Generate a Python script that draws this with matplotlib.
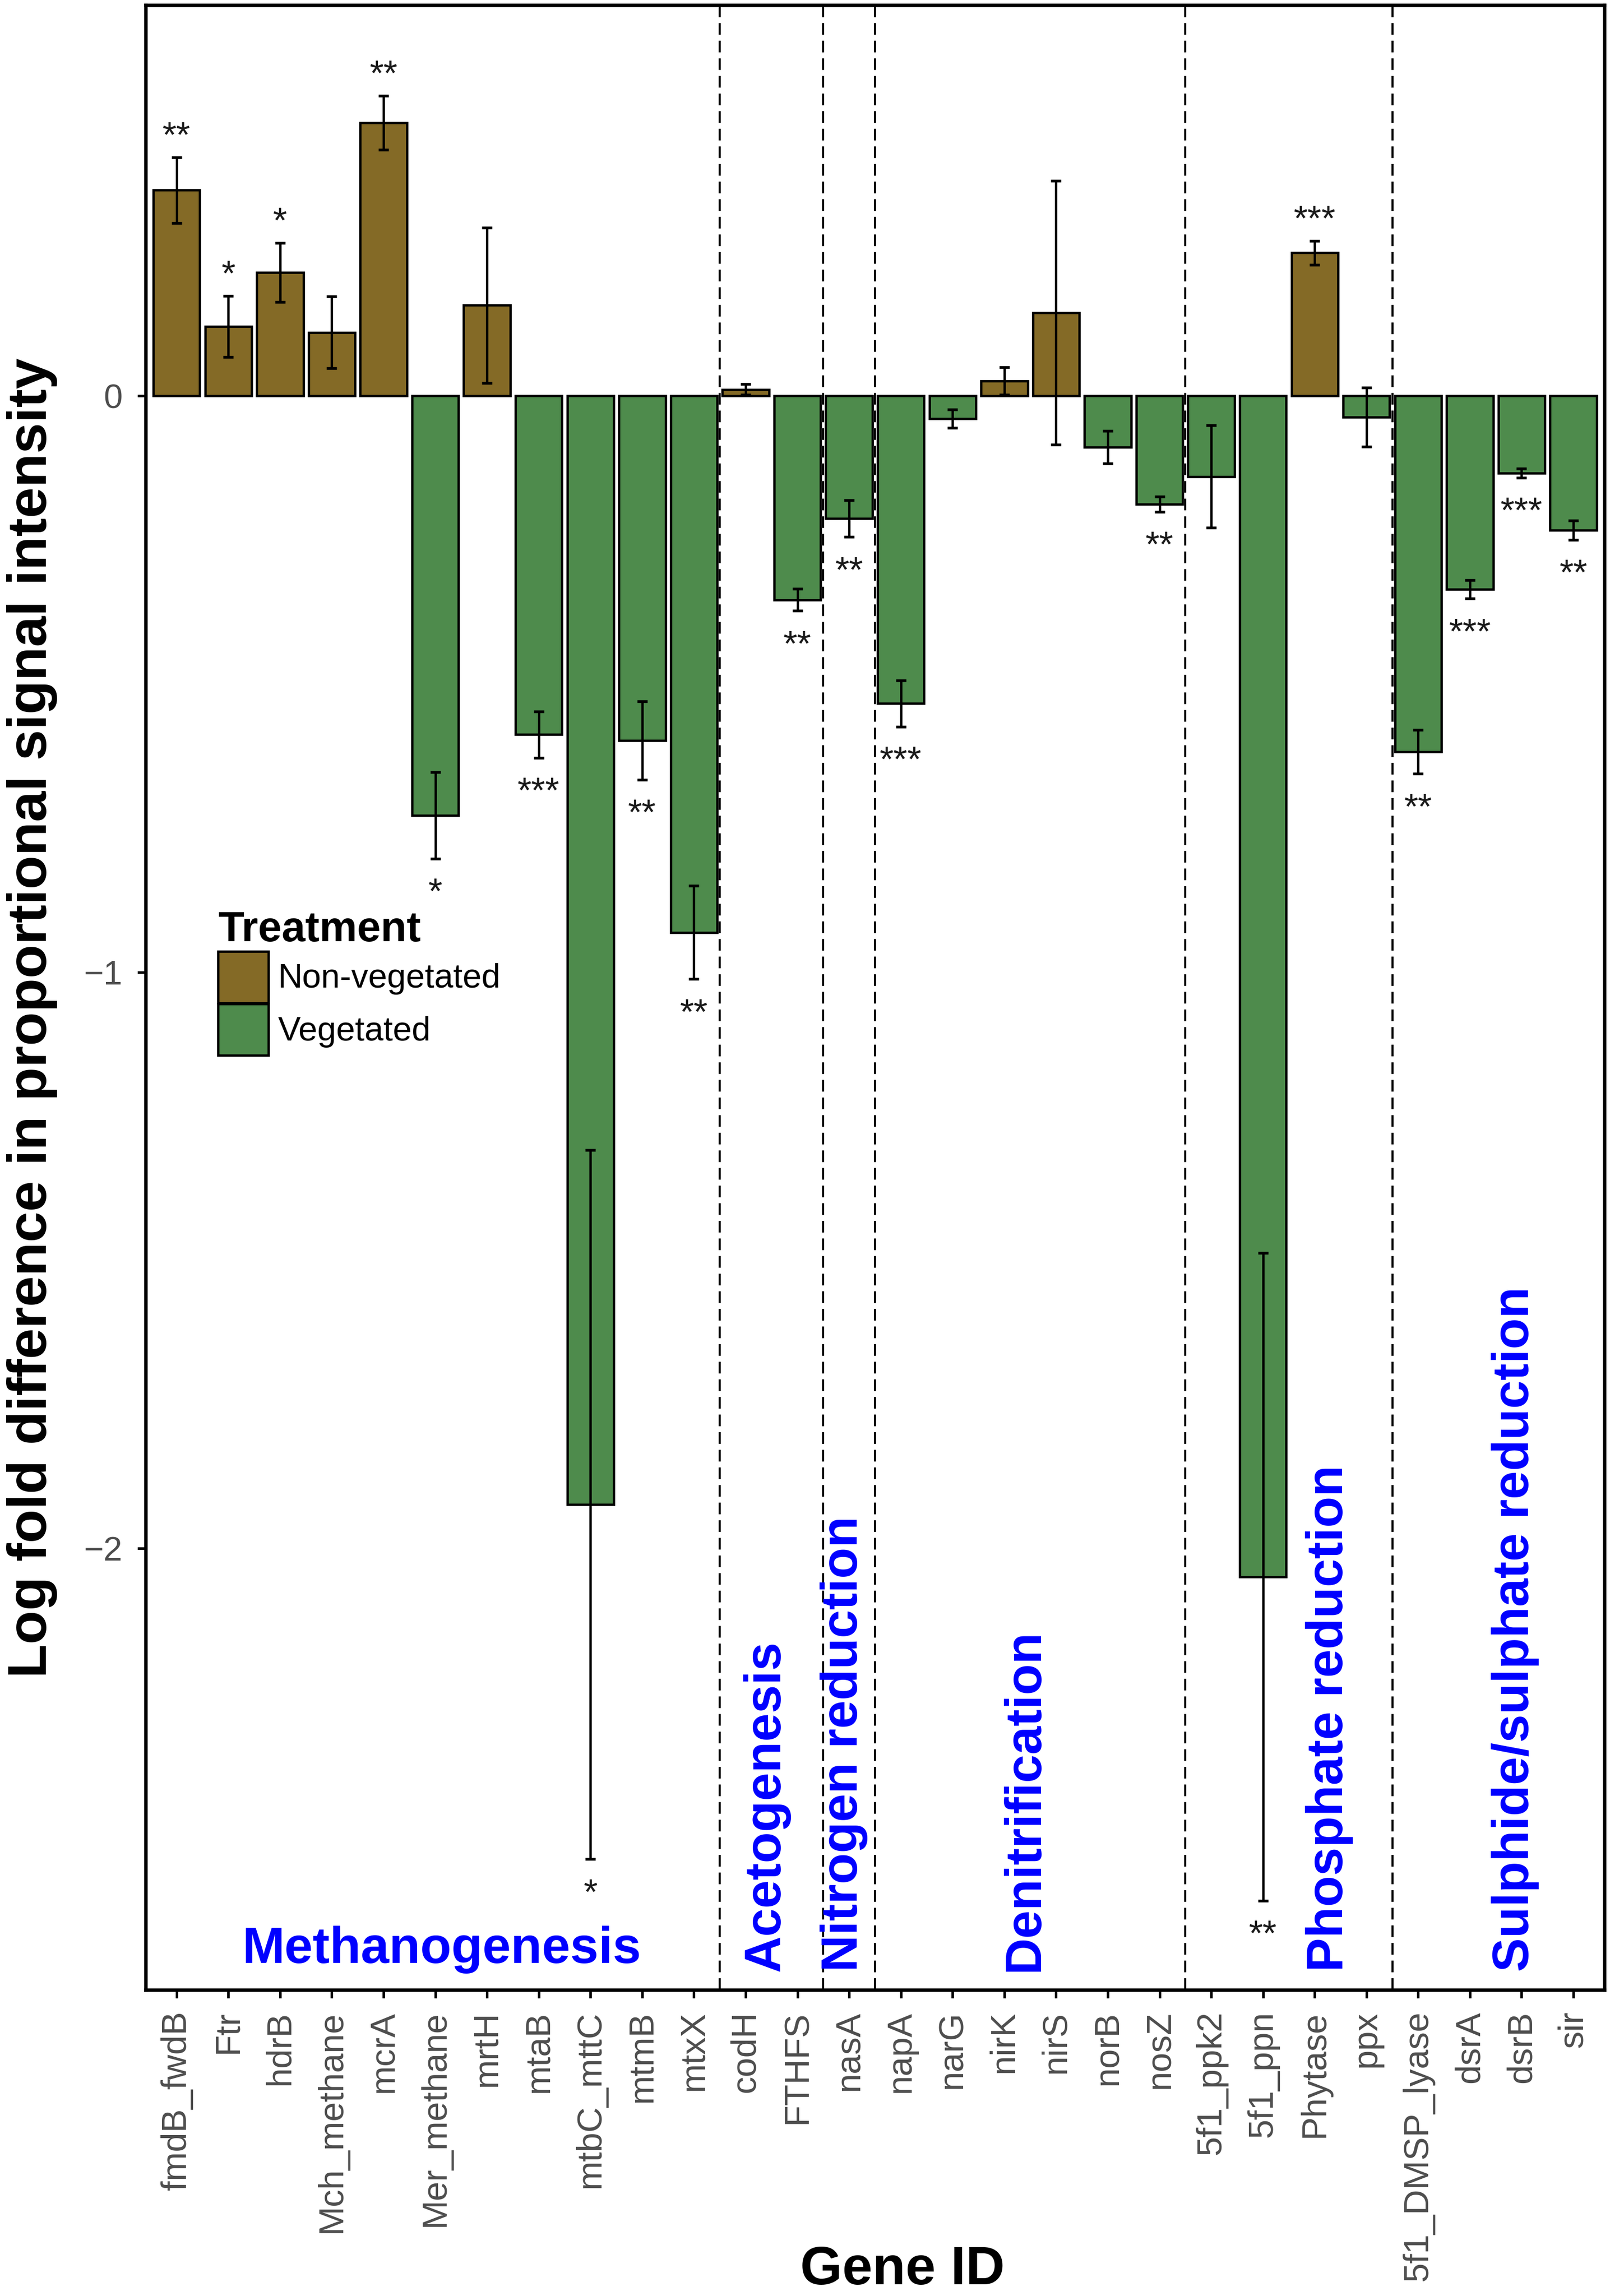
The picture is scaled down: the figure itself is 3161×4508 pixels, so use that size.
import matplotlib
matplotlib.use('Agg')
import matplotlib.pyplot as plt
from matplotlib.patches import Patch
import numpy as np

plt.rcParams['font.family'] = ['Liberation Sans', 'DejaVu Sans']

# ---------------- data ----------------
genes = ['fmdB_fwdB', 'Ftr', 'hdrB', 'Mch_methane', 'mcrA', 'Mer_methane', 'mrtH',
         'mtaB', 'mtbC_mttC', 'mtmB', 'mtxX', 'codH', 'FTHFS', 'nasA', 'napA',
         'narG', 'nirK', 'nirS', 'norB', 'nosZ', '5f1_ppk2', '5f1_ppn', 'Phytase',
         'ppx', '5f1_DMSP_lyase', 'dsrA', 'dsrB', 'sir']
lfc = [0.357, 0.120, 0.214, 0.110, 0.474, -0.728, 0.157,
       -0.588, -1.924, -0.598, -0.931, 0.011, -0.354, -0.213, -0.534,
       -0.040, 0.026, 0.144, -0.089, -0.188, -0.140, -2.049, 0.248,
       -0.037, -0.618, -0.336, -0.134, -0.233]
se = [0.057, 0.053, 0.051, 0.062, 0.047, 0.075, 0.135,
      0.040, 0.615, 0.068, 0.081, 0.009, 0.019, 0.032, 0.040,
      0.016, 0.024, 0.229, 0.028, 0.013, 0.089, 0.562, 0.021,
      0.051, 0.038, 0.016, 0.008, 0.017]
sig = ['**', '*', '*', '', '**', '*', '',
       '***', '*', '**', '**', '', '**', '**', '***',
       '', '', '', '', '**', '', '**', '***',
       '', '**', '***', '***', '**']
treatments = ['Non-vegetated', 'Vegetated']
group_names = ['Methanogenesis', 'Acetogenesis', 'Nitrogen reduction',
               'Denitrification', 'Phosphate reduction', 'Sulphide/sulphate reduction']
group_sizes = [11, 2, 1, 6, 4, 4]

# ---------------- style / layout ----------------
col = {'Non-vegetated': '#846A26', 'Vegetated': '#4E8B4C'}
W, H, DPI = 3162, 4508, 300
fig = plt.figure(figsize=(W / DPI, H / DPI), dpi=DPI)
ax = fig.add_axes([0.0904, 0.1333, 0.9962 - 0.0904, 0.9978 - 0.1333])

x = np.arange(len(genes))
vals = np.array(lfc)
errs = np.array(se)
bar_tr = [treatments[0] if v > 0 else treatments[1] for v in vals]
ax.bar(x, vals, width=0.9, color=[col[t] for t in bar_tr],
       edgecolor='black', linewidth=1.1, zorder=2)
ax.errorbar(x, vals, yerr=errs, fmt='none', ecolor='black',
            elinewidth=1.1, capsize=2.5, capthick=1.3, zorder=3)

# significance stars
for xi, v, e, s in zip(x, vals, errs, sig):
    if not s:
        continue
    if v > 0:
        ax.annotate(s, xy=(xi, v + e), xytext=(0, 5), textcoords='offset points',
                    ha='center', va='baseline', fontsize=17, color='#1a1a1a', zorder=4)
    else:
        ax.annotate(s, xy=(xi, v - e), xytext=(0, -21), textcoords='offset points',
                    ha='center', va='baseline', fontsize=17, color='#1a1a1a', zorder=4)

# group separators
bounds = np.cumsum(group_sizes)[:-1] - 0.5
for b in bounds:
    ax.axvline(b, color='black', linewidth=1.0, linestyle=(0, (5.5, 2.8)), zorder=1)

# group labels
grp_x = [5.12, 11.40, 12.90, 16.40, 22.28, 25.88]
for i, (name, gx) in enumerate(zip(group_names, grp_x)):
    if i == 0:
        ax.text(gx, -2.719, name, ha='center', va='baseline', fontsize=24,
                fontweight='bold', color='#0000FF', zorder=4)
    else:
        ax.text(gx, -2.734, name, ha='center', va='bottom', rotation=90,
                fontsize=24, fontweight='bold', color='#0000FF', zorder=4)

ax.set_xlim(-0.6, len(genes) - 0.4)
ax.set_ylim(-2.766, 0.678)
ax.set_xticks(x)
ax.set_xticklabels(genes, rotation=90, fontsize=16.5, color='#4D4D4D')
ax.set_yticks([-2, -1, 0])
ax.set_yticklabels(['\u22122', '\u22121', '0'], fontsize=16, color='#4D4D4D')
ax.tick_params(axis='both', direction='out', length=3.9, width=1.2, color='black')
ax.tick_params(axis='x', pad=6)
ax.tick_params(axis='y', pad=7)
for sp in ax.spines.values():
    sp.set_linewidth(1.6)
    sp.set_color('black')

# legend
handles = [Patch(facecolor=col[t], edgecolor='black', linewidth=1.1) for t in treatments]
leg = ax.legend(handles, treatments, title='Treatment', loc='upper left',
                bbox_to_anchor=(0.0496, 0.5440), frameon=False, fontsize=16,
                title_fontproperties={'weight': 'bold', 'size': 20},
                handlelength=1.48, handleheight=1.95, handletextpad=0.28,
                labelspacing=0.04, borderpad=0, borderaxespad=0, alignment='left')

# axis titles
fig.text(0.0200, 0.5568, 'Log fold difference in proportional signal intensity',
         rotation=90, ha='center', va='center', fontsize=26, fontweight='bold')
fig.text(0.5605, 0.0051, 'Gene ID', ha='center', va='baseline', fontsize=25.5,
         fontweight='bold')

fig.savefig('out.png', dpi=DPI)
